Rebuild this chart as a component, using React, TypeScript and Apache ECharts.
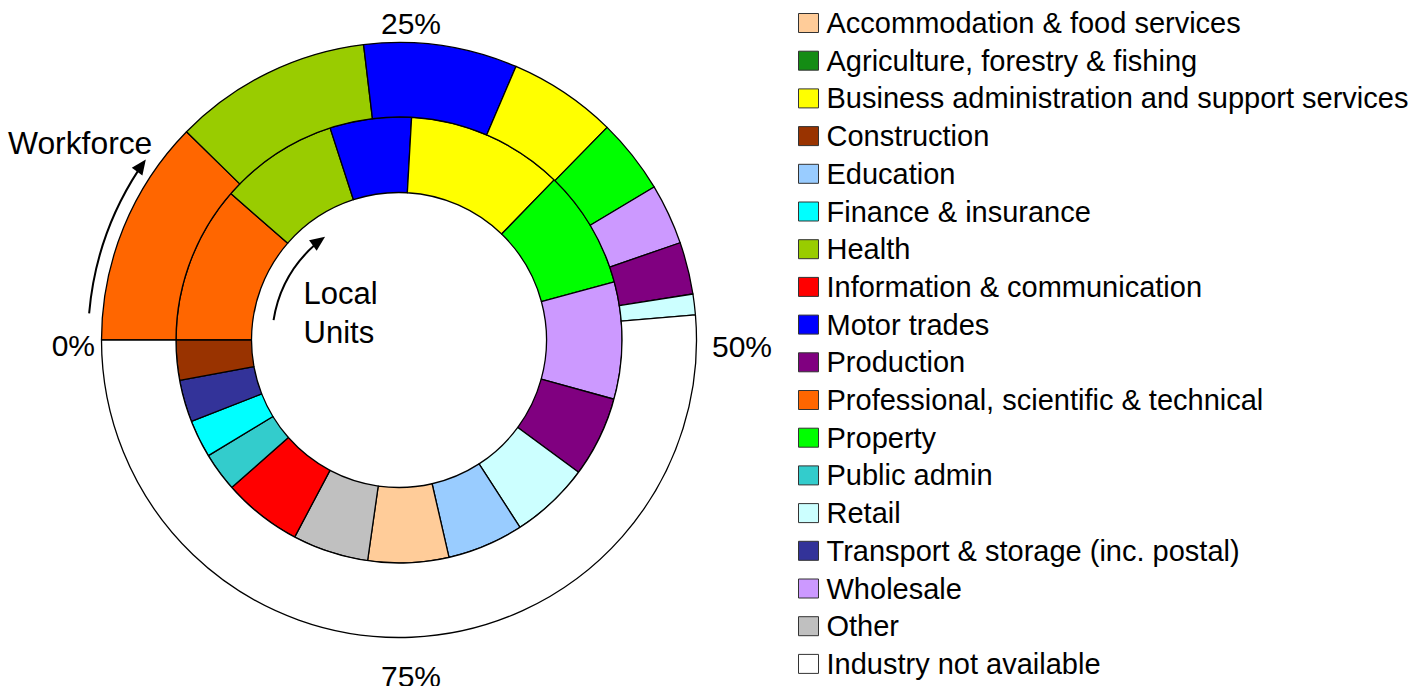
import React, { useEffect, useRef } from "react";
import * as echarts from "echarts";

// Inner ring: Local Units (share, %), clockwise from 0% at the left
const INNER_NAMES = [
  "Professional, scientific & technical",
  "Health",
  "Motor trades",
  "Business administration and support services",
  "Property",
  "Wholesale",
  "Production",
  "Retail",
  "Education",
  "Accommodation & food services",
  "Other",
  "Information & communication",
  "Public admin",
  "Finance & insurance",
  "Transport & storage (inc. postal)",
  "Construction",
  "Agriculture, forestry & fishing",
];
const INNER_VALUES = [11.4, 8.6, 5.9, 11.35, 8.55, 8.48, 5.82, 5.77, 5.53, 5.85, 5.5, 5.75, 2.82, 2.73, 3.05, 2.9, 0];

// Outer ring: Workforce (share, %)
const OUTER_NAMES = [
  "Professional, scientific & technical",
  "Health",
  "Motor trades",
  "Business administration and support services",
  "Property",
  "Wholesale",
  "Production",
  "Retail",
  "Industry not available",
];
const OUTER_VALUES = [12.34, 10.76, 8.33, 5.9, 4.07, 3.3, 2.83, 1.12, 51.35];

const LEGEND_ORDER = [
  "Accommodation & food services",
  "Agriculture, forestry & fishing",
  "Business administration and support services",
  "Construction",
  "Education",
  "Finance & insurance",
  "Health",
  "Information & communication",
  "Motor trades",
  "Production",
  "Professional, scientific & technical",
  "Property",
  "Public admin",
  "Retail",
  "Transport & storage (inc. postal)",
  "Wholesale",
  "Other",
  "Industry not available",
];

const COLORS: Record<string, string> = {
  "Accommodation & food services": "#FFCC99",
  "Agriculture, forestry & fishing": "#148C14",
  "Business administration and support services": "#FFFF00",
  "Construction": "#993300",
  "Education": "#99CCFF",
  "Finance & insurance": "#00FFFF",
  "Health": "#99CC00",
  "Information & communication": "#FF0000",
  "Motor trades": "#0000FF",
  "Production": "#800080",
  "Professional, scientific & technical": "#FF6600",
  "Property": "#00FF00",
  "Public admin": "#33CCCC",
  "Retail": "#CCFFFF",
  "Transport & storage (inc. postal)": "#333399",
  "Wholesale": "#CC99FF",
  "Other": "#C0C0C0",
  "Industry not available": "#FFFFFF",
};

const PERCENT_LABELS = ["0%", "25%", "50%", "75%"];

const CX = 399;
const CY = 340;
const FONT = '"Liberation Sans", Arial, sans-serif';

function arcArrow(r: number, fromDeg: number, toDeg: number) {
  const head = 15;
  const half = 6.5;
  const phiTip = (-toDeg * Math.PI) / 180;
  const phiStart = (-fromDeg * Math.PI) / 180;
  const phiEnd = phiTip - (head - 2) / r;
  const tx = CX + r * Math.cos(phiTip);
  const ty = CY + r * Math.sin(phiTip);
  const dx = -Math.sin(phiTip);
  const dy = Math.cos(phiTip);
  const nx = Math.cos(phiTip);
  const ny = Math.sin(phiTip);
  const bx = tx - head * dx;
  const by = ty - head * dy;
  return [
    {
      type: "arc",
      shape: { cx: CX, cy: CY, r, startAngle: phiStart, endAngle: phiEnd, clockwise: true },
      style: { stroke: "#000", lineWidth: 2, fill: "none" },
      silent: true,
    },
    {
      type: "polygon",
      shape: {
        points: [
          [tx, ty],
          [bx + half * nx, by + half * ny],
          [bx - half * nx, by - half * ny],
        ],
      },
      style: { fill: "#000" },
      silent: true,
    },
  ];
}

export default function App() {
  const ref = useRef<HTMLDivElement>(null);
  useEffect(() => {
    if (!ref.current) return;
    const chart = echarts.init(ref.current, null, { renderer: "svg" });
    const border = { borderColor: "#000", borderWidth: 1.3 };
    const innerData = INNER_NAMES.map((n, i) => ({
      name: n,
      value: INNER_VALUES[i],
      itemStyle: { color: COLORS[n], ...border, ...(INNER_VALUES[i] === 0 ? { borderWidth: 0 } : {}) },
    }));
    const outerData = OUTER_NAMES.map((n, i) => ({
      name: n,
      value: OUTER_VALUES[i],
      itemStyle: { color: COLORS[n], ...border },
    }));
    const txt = (text: string, x: number, y: number, align: string, size: number) => ({
      type: "text",
      x,
      y,
      silent: true,
      style: { text, fill: "#000", font: `${size}px ${FONT}`, align, verticalAlign: "middle" },
    });
    chart.setOption({
      animation: false,
      backgroundColor: "#fff",
      legend: {
        orient: "vertical",
        left: 798,
        top: 8,
        padding: 0,
        itemWidth: 20,
        itemHeight: 19,
        itemGap: 7.7,
        icon: "rect",
        selectedMode: false,
        data: LEGEND_ORDER,
        itemStyle: { borderColor: "#333", borderWidth: 1 },
        textStyle: { fontSize: 29, fontFamily: FONT, color: "#000", lineHeight: 30, padding: [0, 0, 0, 3] },
      },
      series: [
        {
          type: "pie",
          name: "Local Units",
          center: [CX, CY],
          radius: [147.5, 223],
          startAngle: 180,
          clockwise: true,
          label: { show: false },
          labelLine: { show: false },
          emphasis: { disabled: true },
          data: innerData,
        },
        {
          type: "pie",
          name: "Workforce",
          center: [CX, CY],
          radius: [223, 297.5],
          startAngle: 180,
          clockwise: true,
          label: { show: false },
          labelLine: { show: false },
          emphasis: { disabled: true },
          data: outerData,
        },
      ],
      graphic: [
        txt(PERCENT_LABELS[0], 95, 345, "right", 30),
        txt(PERCENT_LABELS[1], 411, 23, "center", 30),
        txt(PERCENT_LABELS[2], 712, 346, "left", 30),
        txt(PERCENT_LABELS[3], 411, 676, "center", 30),
        txt("Workforce", 8, 142.5, "left", 31.8),
        txt("Local", 303.5, 293.3, "left", 31),
        txt("Units", 303.5, 332.5, "left", 31),
        ...arcArrow(311, 175.1, 144.5),
        ...arcArrow(127, 171, 125.6),
      ],
    });
    return () => chart.dispose();
  }, []);
  return <div ref={ref} style={{ position: "fixed", left: 0, top: 0, width: 1415, height: 686 }} />;
}
